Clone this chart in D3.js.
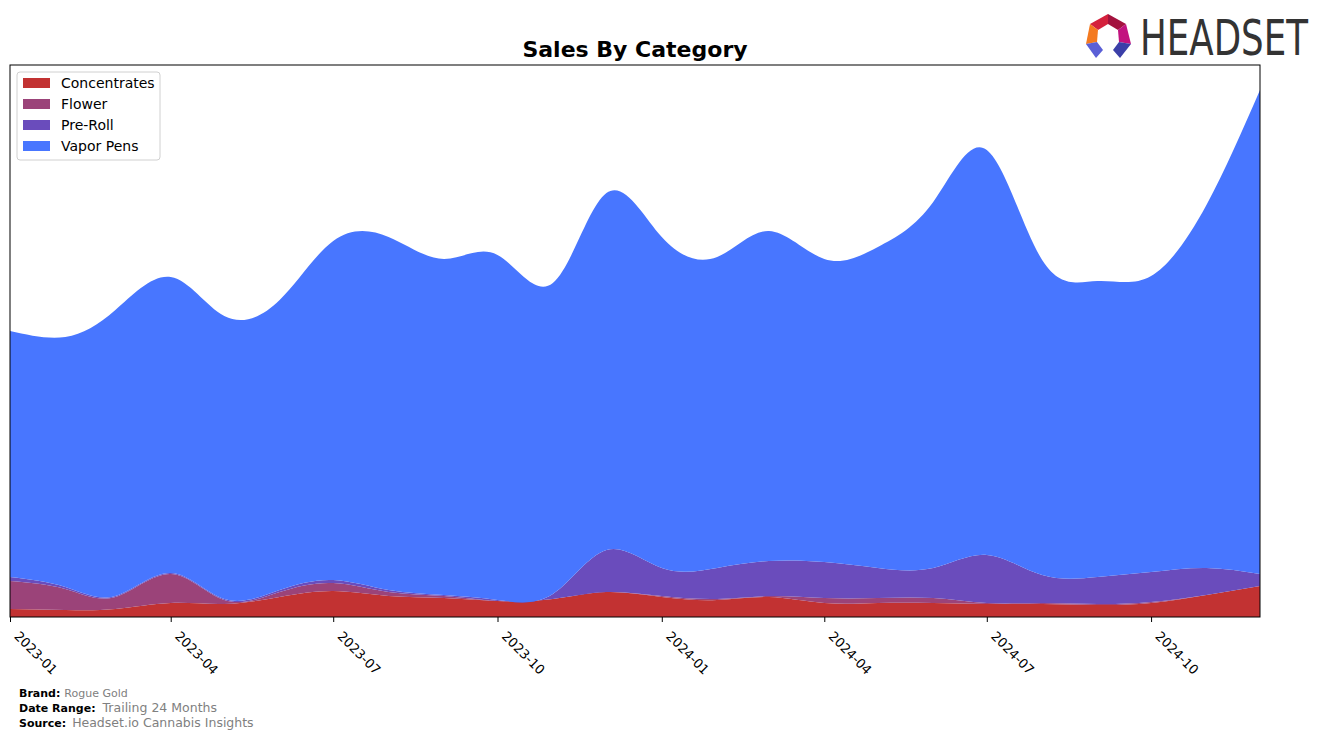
<!DOCTYPE html>
<html>
<head>
<meta charset="utf-8">
<script src="https://cdn.jsdelivr.net/npm/d3@7"></script>
<style>
  body { margin: 0; background: #fff; font-family: "DejaVu Sans", sans-serif; }
  .title { font-weight: bold; font-size: 22px; text-anchor: middle; }
  .tick-label { font-size: 13px; }
  .legend-label { font-size: 14px; }
  .foot-key { font-weight: bold; font-size: 11px; }
  .foot-val { fill: #808080; }
</style>
</head>
<body>
<div id="chart"></div>
<script>
// 1: DATA (arbitrary sales units)
const months = ["2023-01","2023-02","2023-03","2023-04","2023-05","2023-06","2023-07","2023-08","2023-09","2023-10","2023-11","2023-12",
                "2024-01","2024-02","2024-03","2024-04","2024-05","2024-06","2024-07","2024-08","2024-09","2024-10","2024-11","2024-12"];
const categories = ["Concentrates", "Flower", "Pre-Roll", "Vapor Pens"];
const concentrates = [8, 7, 8, 14, 13, 20, 26, 21, 19, 16, 18, 25, 20, 17, 20, 14, 14, 14, 13, 13, 12, 14, 22, 31];
const flower       = [28, 21, 12, 29, 4, 5, 8, 4, 2, 0, 0, 0, 1, 1, 1, 5, 5, 5, 1, 1, 1, 1, 0, 0];
const preRoll      = [4, 2, 1, 1, 1, 2, 3, 2, 1, 1, 5, 42, 28, 31, 35, 36, 30, 30, 48, 28, 27, 30, 27, 12];
const vaporPens    = [246, 250, 286, 296, 283, 290, 339, 353, 336, 345, 311, 357, 331, 311, 330, 303, 321, 366, 405, 315, 296, 296, 363, 484];
const tickMonths = ["2023-01","2023-04","2023-07","2023-10","2024-01","2024-04","2024-07","2024-10"];

const colors = ["#c23232", "#9b4379", "#6a4cbc", "#4876ff"];

// 2: SVG
const W = 1324, H = 740;
const plot = { left: 10, right: 1260, top: 65, bottom: 617 };

const svg = d3.select("#chart")
    .append("svg")
    .attr("width", W)
    .attr("height", H);

const parse = d3.timeParse("%Y-%m");
const data = months.map((m, i) => ({
    date: parse(m),
    "Concentrates": concentrates[i],
    "Flower": flower[i],
    "Pre-Roll": preRoll[i],
    "Vapor Pens": vaporPens[i]
}));

// 3: SCALES
const x = d3.scaleTime()
    .domain(d3.extent(data, d => d.date))
    .range([plot.left, plot.right]);

const y = d3.scaleLinear()
    .domain([0, 552])
    .range([plot.bottom, plot.top]);

// 4: STACKED AREAS (smoothed)
const stacked = d3.stack().keys(categories)(data);

const area = d3.area()
    .curve(d3.curveNatural)
    .x(d => x(d.data.date))
    .y0(d => y(d[0]))
    .y1(d => y(d[1]));

svg.append("defs").append("clipPath").attr("id", "clip")
    .append("rect")
    .attr("x", plot.left).attr("y", plot.top)
    .attr("width", plot.right - plot.left).attr("height", plot.bottom - plot.top);

svg.append("g")
    .attr("clip-path", "url(#clip)")
    .selectAll("path")
    .data(stacked)
    .enter()
    .append("path")
    .attr("d", area)
    .attr("fill", (d, i) => colors[i]);

// frame
svg.append("rect")
    .attr("x", plot.left).attr("y", plot.top)
    .attr("width", plot.right - plot.left).attr("height", plot.bottom - plot.top)
    .attr("fill", "none")
    .attr("stroke", "#000")
    .attr("stroke-width", 1);

// 5: X AXIS
const xAxis = svg.append("g")
    .attr("transform", `translate(0,${plot.bottom})`)
    .call(d3.axisBottom(x)
        .tickValues(tickMonths.map(parse))
        .tickFormat(d3.timeFormat("%Y-%m"))
        .tickSize(5));

xAxis.select(".domain").remove();
xAxis.selectAll("line").attr("stroke", "#000");
xAxis.selectAll("text")
    .attr("class", "tick-label")
    .attr("fill", "#000")
    .attr("font-family", "DejaVu Sans")
    .attr("text-anchor", "start")
    .attr("x", 0).attr("y", 0).attr("dy", 0)
    .attr("transform", "translate(3,20) rotate(45)");

// 6: TITLE
svg.append("text")
    .attr("class", "title")
    .attr("x", 635)
    .attr("y", 57)
    .text("Sales By Category");

// 7: LEGEND
const legend = svg.append("g").attr("transform", "translate(17,72)");
legend.append("rect")
    .attr("width", 143).attr("height", 88)
    .attr("rx", 3)
    .attr("fill", "#fff")
    .attr("fill-opacity", 0.8)
    .attr("stroke", "#d0d0d0");

const rows = legend.selectAll(".row")
    .data(categories)
    .enter()
    .append("g")
    .attr("transform", (d, i) => `translate(6,${11 + i * 21})`);

rows.append("rect")
    .attr("x", 0).attr("y", -5)
    .attr("width", 27).attr("height", 10)
    .attr("fill", (d, i) => colors[i]);

rows.append("text")
    .attr("class", "legend-label")
    .attr("x", 38)
    .attr("dy", "0.36em")
    .text(d => d);

// 8: FOOTER
const foot = [
    { key: "Brand:", val: "Rogue Gold", size: 11, gap: 4, y: 697 },
    { key: "Date Range:", val: "Trailing 24 Months", size: 12.5, gap: 7, y: 712 },
    { key: "Source:", val: "Headset.io Cannabis Insights", size: 12.5, gap: 6, y: 727 }
];
foot.forEach(f => {
    const t = svg.append("text").attr("x", 19).attr("y", f.y);
    t.append("tspan").attr("class", "foot-key").text(f.key);
    t.append("tspan").attr("class", "foot-val").attr("font-size", f.size).attr("dx", f.gap).text(f.val);
});

// 9: LOGO
const logo = svg.append("g");
const pieces = [
    { c: "#d4213d", p: [[1090,24],[1108,14],[1108,24],[1098,30]] },
    { c: "#a3123e", p: [[1108,14],[1126,24],[1118,30],[1108,24]] },
    { c: "#f47a20", p: [[1090,24],[1098,30],[1097,42],[1086,44]] },
    { c: "#c2137f", p: [[1126,24],[1131,44],[1119,42],[1118,30]] },
    { c: "#5a5fd6", p: [[1086,44],[1097,42],[1103,50],[1096,58]] },
    { c: "#3b3fa8", p: [[1131,44],[1119,42],[1113,50],[1120,58]] }
];
logo.selectAll("polygon")
    .data(pieces)
    .enter()
    .append("polygon")
    .attr("points", d => d.p.map(q => q.join(",")).join(" "))
    .attr("fill", d => d.c);

// squeeze the word horizontally so it spans 168px, like the narrow logo type
const word = logo.append("text")
    .attr("font-family", "Liberation Sans Narrow, DejaVu Sans Condensed, sans-serif")
    .attr("font-size", 50)
    .attr("fill", "#333")
    .text("HEADSET");
const naturalWidth = word.node().getComputedTextLength();
word.attr("transform", `translate(1140,55) scale(${168 / naturalWidth},1)`);
</script>
</body>
</html>
